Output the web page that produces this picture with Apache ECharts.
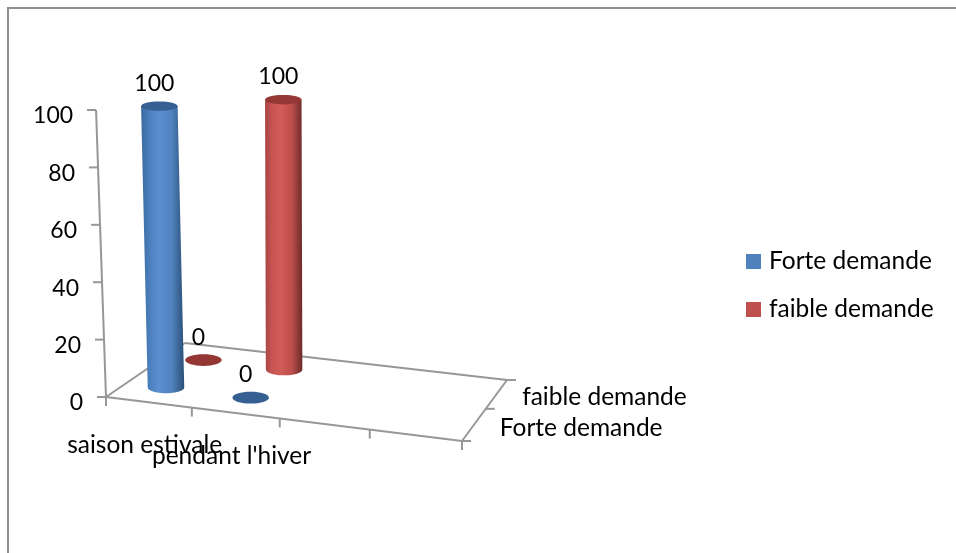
<!DOCTYPE html>
<html>
<head>
<meta charset="utf-8">
<style>html,body{margin:0;padding:0;background:#fff}#chart{width:956px;height:553px}</style>
<script src="https://cdn.jsdelivr.net/npm/echarts@6/dist/echarts.min.js"></script>
</head>
<body>
<div id="chart"></div>
<script>
// Chart data
const categories = ['saison estivale', "pendant l'hiver", '', ''];
const seriesNames = ['Forte demande', 'faible demande'];
const forteDemande = [100, 0];
const faibleDemande = [0, 100];
const yTicks = [0, 20, 40, 60, 80, 100];

// Depth position of each series row on the floor (0 = front edge, 1 = back edge)
const ROW_DEPTH = [0.25, 0.75];
const FONT = 'Lato';
const TEXT_SIZE = 24.5;
const NUMBER_SIZE = 23;
const AXIS_COLOR = '#979797';

// Plot rectangle holding the hidden scales; its pixels are remapped onto the tilted floor
const GRID = { left: 106, top: 110, width: 356, height: 287 };

// Perspective map of the unit floor square onto its on-screen quadrilateral
const Q = [[106, 397], [462, 441], [507, 380], [185, 343]];
const H = (function () {
  const [[x0, y0], [x1, y1], [x2, y2], [x3, y3]] = Q;
  const dx1 = x1 - x2, dx2 = x3 - x2, sx = x0 - x1 + x2 - x3;
  const dy1 = y1 - y2, dy2 = y3 - y2, sy = y0 - y1 + y2 - y3;
  const den = dx1 * dy2 - dx2 * dy1;
  const g = (sx * dy2 - dx2 * sy) / den;
  const h = (dx1 * sy - sx * dy1) / den;
  return { a: x1 - x0 + g * x1, b: x3 - x0 + h * x3, c: x0, d: y1 - y0 + g * y1, e: y3 - y0 + h * y3, f: y0, g, h };
})();

// u: across the categories, d: depth, t: height fraction of the value axis
function project(u, d, t) {
  const w = H.g * u + H.h * d + 1;
  const x = (H.a * u + H.b * d + H.c) / w;
  const y = (H.d * u + H.e * d + H.f) / w;
  const rise = t * GRID.height * (1 - 0.08 * d);
  return [x + (x - 304) * 0.000175 * rise, y - rise];
}

// Normalise a point from the hidden cartesian scales
function toUnit(api, cat, val) {
  const p = api.coord([cat, val]);
  return [(p[0] - GRID.left) / GRID.width, (GRID.top + GRID.height - p[1]) / GRID.height];
}

function line(a, b) {
  return {
    type: 'line', silent: true,
    shape: { x1: a[0], y1: a[1], x2: b[0], y2: b[1] },
    style: { stroke: AXIS_COLOR, lineWidth: 2 }
  };
}

function label(text, x, y, align, size) {
  return {
    type: 'text', silent: true,
    style: { x, y, text, fill: '#000', fontFamily: FONT, fontSize: size || TEXT_SIZE, align: align || 'center', verticalAlign: 'middle' }
  };
}

// Floor outline, tilted value axis, ticks and every axis label
function renderFrame(params, api) {
  const kids = [];
  const corner = (u, d) => project(u, d, 0);
  kids.push(line(corner(0, 0), corner(1, 0)), line(corner(1, 0), corner(1, 1)),
             line(corner(1, 1), corner(0, 1)), line(corner(0, 1), corner(0, 0)));

  const top = toUnit(api, 0, yTicks[yTicks.length - 1])[1];
  kids.push(line(project(0, 0, 0), project(0, 0, top)));
  yTicks.forEach(function (v) {
    const t = toUnit(api, 0, v)[1];
    const p = project(0, 0, t);
    kids.push(line(p, [p[0] - 9, p[1]]));
    kids.push(label(String(v), p[0] - 23, p[1] + 6, 'right', NUMBER_SIZE));
  });

  const slotCount = categories.length;
  for (let i = 0; i <= slotCount; i++) {
    const p = corner(i / slotCount, 0);
    kids.push(line(p, [p[0], p[1] + 9]));
  }
  categories.forEach(function (name, i) {
    if (!name) return;
    const p = corner(toUnit(api, i, 0)[0], 0);
    kids.push(label(name, p[0] - 4, p[1] + 43));
  });

  [0, 0.5, 1].forEach(function (d) {
    const p = corner(1, d);
    kids.push(line(p, [p[0] + 9, p[1]]));
  });
  ROW_DEPTH.forEach(function (d, i) {
    const p = corner(1, d);
    kids.push(label(seriesNames[i], p[0] + 25.5, p[1] + 3.5, 'left'));
  });
  return { type: 'group', children: kids };
}

const PALETTE = [
  { side: ['#3a689c', '#4a7ebb', '#5b8fd0', '#4f81bd', '#2b4f77'], cap: '#376092', flat: '#376092' },
  { side: ['#a64442', '#c75452', '#d25c5a', '#bd4e4b', '#6b2a28'], cap: '#953735', flat: '#943634' }
];

function gradient(stops, x0, x1) {
  const offs = [0, 0.18, 0.42, 0.72, 1];
  return new echarts.graphic.LinearGradient(x0, 0, x1, 0,
    stops.map((color, i) => ({ offset: offs[i], color })), true);
}

// One cylinder per category, flattened to a disc when its value is zero
function renderCylinder(rowIndex) {
  return function (params, api) {
    const [u, t] = toUnit(api, api.value(0), api.value(1));
    const d = ROW_DEPTH[rowIndex];
    const shift = -3;
    const base = project(u, d, 0);
    const tip = project(u, d, t);
    base[0] += shift;
    tip[0] += shift;
    const rx = api.size([1, 0])[0] * 0.205;
    const ry = rx * 0.32;
    const pal = PALETTE[rowIndex];
    const kids = [];

    if (t > 0) {
      const pts = [[tip[0] - rx, tip[1]], [tip[0] + rx, tip[1]], [base[0] + rx, base[1]]];
      for (let a = 0; a <= 24; a++) {
        const ang = Math.PI * a / 24;
        pts.push([base[0] + rx * Math.cos(ang), base[1] + ry * Math.sin(ang)]);
      }
      kids.push({
        type: 'polygon', silent: true, shape: { points: pts },
        style: { fill: gradient(pal.side, Math.min(tip[0], base[0]) - rx, Math.max(tip[0], base[0]) + rx) }
      });
      kids.push({
        type: 'ellipse', silent: true, shape: { cx: tip[0], cy: tip[1], rx, ry: ry * 0.8 },
        style: { fill: pal.cap }
      });
    } else {
      kids.push({
        type: 'ellipse', silent: true, shape: { cx: base[0], cy: base[1], rx, ry },
        style: { fill: pal.flat }
      });
    }
    kids.push(label(String(api.value(1)), tip[0] - 5, tip[1] - 23, 'center', NUMBER_SIZE));
    return { type: 'group', children: kids };
  };
}

function pairs(values) {
  return values.map((v, i) => [i, v]);
}

const chart = echarts.init(document.getElementById('chart'));
chart.setOption({
  animation: false,
  backgroundColor: '#fff',
  grid: GRID,
  xAxis: { type: 'category', data: categories, show: false },
  yAxis: { type: 'value', min: 0, max: 100, interval: 20, show: false },
  legend: {
    data: seriesNames,
    orient: 'vertical',
    left: 741,
    top: 244,
    itemWidth: 15,
    itemHeight: 15,
    itemGap: 23,
    icon: 'rect',
    selectedMode: false,
    textStyle: { fontFamily: FONT, fontSize: TEXT_SIZE, color: '#000', padding: [0, 0, 0, 3] }
  },
  graphic: [
    { type: 'line', silent: true, shape: { x1: 7, y1: 8, x2: 956, y2: 8 }, style: { stroke: '#8f8f8f', lineWidth: 2 } },
    { type: 'line', silent: true, shape: { x1: 8, y1: 8, x2: 8, y2: 553 }, style: { stroke: '#8f8f8f', lineWidth: 2 } }
  ],
  series: [
    { type: 'custom', name: 'frame', silent: true, data: [[0, 0]], renderItem: renderFrame, z: 1 },
    { type: 'custom', name: seriesNames[1], silent: true, data: pairs(faibleDemande), renderItem: renderCylinder(1),
      itemStyle: { color: '#c0504d' }, z: 2 },
    { type: 'custom', name: seriesNames[0], silent: true, data: pairs(forteDemande), renderItem: renderCylinder(0),
      itemStyle: { color: '#4f81bd' }, z: 3 }
  ]
});
</script>
</body>
</html>
